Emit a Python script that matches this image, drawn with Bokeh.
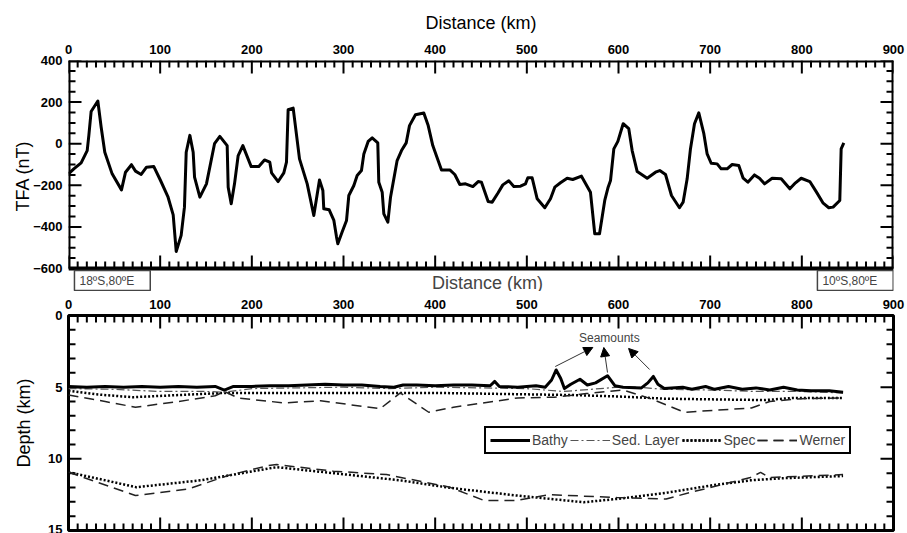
from bokeh.plotting import figure
from bokeh.models import (LinearAxis, SingleIntervalTicker, Range1d, Label, Arrow,
                          NormalHead, Legend, LegendItem, ColumnDataSource)
from bokeh.layouts import column
from bokeh.embed import file_html
from bokeh.resources import INLINE

FONT = "Liberation Sans"

# ---------------- data ----------------
tfa_km = [0, 5.8, 13.8, 20.4, 22.2, 24.7, 32, 35.6, 39.6, 47.6,
          57.8, 62.2, 68.7, 73.1, 79.3, 85.1, 93.1, 100.4, 108.4, 114.2,
          117.5, 122.9, 126.5, 128.4, 132.4, 136, 137.5, 143.3, 150.5, 159.3,
          165.1, 173.1, 174.2, 177.5, 181.1, 185.1, 190.2, 199.3, 207.6, 213.8,
          219.6, 221.5, 228.7, 234.9, 237.8, 239.6, 245.1, 252, 260.4, 267.6,
          273.8, 277.5, 278.5, 284.4, 289.5, 292.4, 293.8, 298.5, 303.3, 305.8,
          311.3, 314.9, 319.6, 322.2, 326.9, 331.3, 337.4, 338.5, 342.2, 344,
          348.4, 351.3, 358.5, 363.3, 368.4, 372, 378.5, 387.6, 392.4, 397.4,
          406.9, 416, 421.4, 426.9, 433.1, 441.1, 446.9, 450.5, 457.8, 462.2,
          468.7, 473.8, 480.3, 485.8, 493.1, 498.5, 501.1, 505.8, 511.3, 519.6,
          525.8, 530.5, 536.7, 544, 550.1, 559.6, 569.4, 574.1, 579.3, 585,
          588.7, 591.3, 594.9, 599.3, 605.1, 611.2, 614.9, 620.4, 631.3, 640.4,
          645, 651.3, 657.8, 666.5, 670.5, 674.9, 678.5, 682.9, 687.6, 693.1,
          696.7, 701.1, 707.6, 712, 718.5, 724, 731.2, 736, 741.1, 748.3,
          753.8, 759.3, 767.6, 777.5, 786.9, 793.1, 799.3, 808.7, 816, 823.3,
          829.4, 834.1, 841.4, 842.9, 845.8]
tfa_nT = [-145, -121, -92, -33, 40, 155, 205, 80, -41, -145,
          -222, -137, -101, -132, -148, -113, -110, -177, -254, -342,
          -518, -441, -305, -41, 40, -41, -161, -257, -193, 0,
          35, -9, -209, -289, -193, -57, -9, -110, -110, -78,
          -89, -140, -182, -140, -89, 163, 171, -73, -193, -345,
          -174, -225, -313, -318, -369, -449, -481, -425, -369, -249,
          -201, -153, -129, -49, 11, 28, 4, -185, -233, -337,
          -377, -257, -81, -33, 4, 87, 139, 148, 87, -9,
          -126, -126, -148, -196, -193, -206, -182, -185, -278, -281,
          -236, -198, -178, -206, -204, -193, -164, -164, -265, -308,
          -265, -209, -188, -166, -172, -156, -233, -433, -433, -273,
          -209, -177, -25, 11, 96, 72, -33, -134, -166, -137,
          -129, -148, -249, -308, -281, -169, -25, 96, 148, 48,
          -49, -94, -97, -121, -121, -100, -105, -166, -185, -150,
          -166, -193, -166, -169, -217, -188, -166, -182, -233, -286,
          -308, -305, -273, -25, 4]

bathy_km = [0, 20, 40, 60, 80, 100, 120, 140, 160, 170, 180, 200, 220, 240, 260, 280,
            300, 320, 340, 355, 365, 380, 400, 420, 440, 460, 465, 470, 490, 510, 520,
            527, 532, 537, 541, 548, 558, 566, 575, 588, 596, 605, 625, 632, 638, 643,
            650, 670, 680, 695, 705, 720, 735, 750, 765, 780, 795, 810, 830, 845]
bathy_d = [4.95, 5.0, 4.95, 5.0, 4.95, 5.0, 4.95, 5.0, 4.95, 5.2, 4.95, 4.95, 4.9, 4.9, 4.85, 4.8,
           4.85, 4.85, 4.95, 5.0, 4.85, 4.85, 4.9, 4.85, 4.85, 4.9, 4.6, 4.95, 5.0, 4.9, 5.0,
           4.5, 3.8, 4.4, 5.1, 4.8, 4.45, 4.85, 4.7, 4.2, 4.9, 5.0, 5.05, 4.7, 4.25, 4.8,
           5.1, 5.0, 5.15, 4.95, 5.15, 4.95, 5.15, 5.05, 5.2, 5.0, 5.2, 5.25, 5.25, 5.35]

sed_km = [0, 50, 100, 150, 170, 200, 250, 300, 350, 400, 450, 500, 540, 580, 600, 620,
          650, 700, 750, 800, 845]
sed_d = [5.1, 5.15, 5.3, 5.3, 5.35, 5.1, 5.05, 5.0, 5.1, 5.0, 5.05, 5.1, 5.3, 5.1, 5.0, 5.0,
         5.15, 5.2, 5.3, 5.3, 5.4]

spec_up_km = [0, 30, 70, 120, 170, 220, 300, 400, 450, 500, 550, 600, 650, 700, 760, 790, 845]
spec_up_d = [5.25, 5.5, 5.7, 5.55, 5.4, 5.4, 5.4, 5.4, 5.45, 5.5, 5.55, 5.65, 5.8, 5.85, 5.9, 5.75, 5.75]

werner_up_km = [0, 40, 73, 120, 160, 170, 185, 235, 275, 340, 362, 393, 420, 490, 530, 565,
                605, 635, 672, 745, 765, 800, 845]
werner_up_d = [5.55, 6.0, 6.4, 6.0, 5.6, 5.3, 5.75, 6.1, 5.95, 6.5, 5.4, 6.75, 6.4, 5.75, 5.7, 5.45,
               5.2, 5.8, 6.75, 6.45, 6.0, 5.8, 5.75]

spec_lo_km = [0, 74, 144, 227, 289, 362, 417, 489, 562, 598, 652, 707, 744, 780, 845]
spec_lo_d = [10.93, 11.98, 11.5, 10.58, 11.0, 11.5, 12.03, 12.56, 13.03, 12.8, 12.37, 11.8, 11.5, 11.35, 11.2]

werner_lo_km = [0, 73, 131, 174, 218, 227, 289, 347, 416, 453, 489, 525, 598, 652, 678, 744,
                755, 765, 845]
werner_lo_d = [10.93, 12.56, 12.1, 11.16, 10.47, 10.4, 10.86, 11.1, 11.98, 12.9, 12.9, 12.5, 12.7,
               12.8, 12.35, 11.3, 10.95, 11.3, 11.1]

X_MAX = 900
TFA_MIN, TFA_MAX = -600, 400
DEPTH_MAX = 15

# ---------------- geometry (pixels) ----------------
W = 907
LEFT, RIGHT = 68, 14
FRAME_W = W - LEFT - RIGHT
P1_TOP, P1_FRAME_H, P1_BAND = 60, 208, 23     # band under the top panel holds the location boxes
P2_TOP, P2_FRAME_H, P2_BOT = 24, 215, 3
MAJOR_PX, MINOR_PX = 13, 7

kx = X_MAX / FRAME_W                       # km per pixel
ky1 = (TFA_MAX - TFA_MIN) / P1_FRAME_H     # nT per pixel
ky2 = DEPTH_MAX / P2_FRAME_H               # km depth per pixel


def label_axis(ax, overrides=None):
    ax.major_tick_in = 0
    ax.major_tick_out = 0
    ax.minor_tick_in = 0
    ax.minor_tick_out = 0
    ax.axis_line_color = None
    ax.major_label_text_font = FONT
    ax.major_label_text_font_size = "13px"
    ax.major_label_text_font_style = "bold"
    ax.major_label_text_color = "black"
    ax.major_label_standoff = 7
    ax.axis_label_text_font = FONT
    ax.axis_label_text_font_size = "18px"
    ax.axis_label_text_font_style = "normal"
    ax.axis_label_text_color = "black"
    if overrides:
        ax.major_label_overrides = overrides


def inward_ticks(p, xt, yt, y_top, y_bot, ky):
    """Tick marks drawn as short segments inside the frame, on all four edges."""
    s = 1.0 if y_bot > y_top else -1.0
    x0s, y0s, x1s, y1s = [], [], [], []
    for ticks, ln in xt:
        for t in ticks:
            x0s += [float(t), float(t)]
            x1s += [float(t), float(t)]
            y0s += [float(y_top), float(y_bot)]
            y1s += [y_top + s * ln * ky, y_bot - s * ln * ky]
    for ticks, ln in yt:
        for t in ticks:
            x0s += [0.0, float(X_MAX)]
            x1s += [ln * kx, X_MAX - ln * kx]
            y0s += [float(t), float(t)]
            y1s += [float(t), float(t)]
    src = ColumnDataSource(dict(x0=x0s, y0=y0s, x1=x1s, y1=y1s))
    p.segment(x0="x0", y0="y0", x1="x1", y1="y1", source=src,
              line_color="black", line_width=2)


x_major = list(range(0, X_MAX + 1, 100))
x_minor = [v for v in range(0, X_MAX + 1, 10) if v % 100]

# ---------------- top panel ----------------
tfa_bottom = TFA_MIN - P1_BAND * ky1
p1 = figure(width=W, height=P1_TOP + P1_FRAME_H + P1_BAND,
            x_range=Range1d(0, X_MAX), y_range=Range1d(tfa_bottom, TFA_MAX),
            output_backend="svg", toolbar_location=None,
            x_axis_location=None, y_axis_location=None,
            min_border_left=LEFT, min_border_right=RIGHT, min_border_top=P1_TOP, min_border_bottom=0)
p1.grid.visible = False
p1.outline_line_color = None

ax = LinearAxis(axis_label="Distance (km)", ticker=SingleIntervalTicker(interval=100, num_minor_ticks=10))
label_axis(ax)
ax.axis_label_standoff = 9
p1.add_layout(ax, "above")

tfa_major = list(range(TFA_MIN, TFA_MAX + 1, 200))
tfa_minor = [v for v in range(TFA_MIN, TFA_MAX + 1, 50) if v % 200]
ax = LinearAxis(axis_label="TFA (nT)", ticker=SingleIntervalTicker(interval=200, num_minor_ticks=4))
label_axis(ax, {v: str(v).replace("-", "\u2212") for v in tfa_major if v < 0})
ax.major_label_standoff = 6
ax.axis_label_standoff = -3
p1.add_layout(ax, "left")

# frame of the top panel (stops at TFA_MIN, above the band with the location boxes)
p1.segment(x0=[0, 0, 0, X_MAX], y0=[TFA_MAX, TFA_MIN, TFA_MIN, TFA_MIN],
           x1=[X_MAX, X_MAX, 0, X_MAX], y1=[TFA_MAX, TFA_MIN, TFA_MAX, TFA_MAX],
           line_color="black", line_width=4)
inward_ticks(p1, [(x_major, MAJOR_PX), (x_minor, MINOR_PX)],
             [(tfa_major, MAJOR_PX), (tfa_minor, MINOR_PX)], TFA_MAX, TFA_MIN, ky1)
p1.line(tfa_km, tfa_nT, line_color="black", line_width=3, line_join="round")

box_y = TFA_MIN - 12 * ky1
for xx, txt in [(6.5, "18ºS,80ºE"), (817, "10ºS,80ºE")]:
    p1.add_layout(Label(x=xx, y=box_y, text=txt, text_font=FONT, text_font_size="12px",
                        text_baseline="middle", text_align="left",
                        border_line_color="#444444", border_line_width=1.5,
                        background_fill_color="white",
                        padding=dict(left=5, right=16, top=3, bottom=3)))
p1.add_layout(Label(x=457, y=TFA_MIN - 14 * ky1, text="Distance (km)", text_font=FONT,
                    text_font_size="18px", text_baseline="middle", text_align="center"))

# ---------------- bottom panel ----------------
p2 = figure(width=W, height=P2_TOP + P2_FRAME_H + P2_BOT,
            x_range=Range1d(0, X_MAX), y_range=Range1d(DEPTH_MAX, 0),
            output_backend="svg", toolbar_location=None,
            x_axis_location=None, y_axis_location=None,
            min_border_left=LEFT, min_border_right=RIGHT, min_border_top=P2_TOP, min_border_bottom=P2_BOT)
p2.grid.visible = False
p2.outline_line_color = "black"
p2.outline_line_width = 3

ax = LinearAxis(ticker=SingleIntervalTicker(interval=100, num_minor_ticks=10))
label_axis(ax)
p2.add_layout(ax, "above")

d_major = list(range(0, DEPTH_MAX + 1, 5))
d_minor = [v for v in range(0, DEPTH_MAX + 1) if v % 5]
ax = LinearAxis(axis_label="Depth (km)", ticker=SingleIntervalTicker(interval=5, num_minor_ticks=5))
label_axis(ax)
ax.major_label_standoff = 6
ax.axis_label_standoff = 11
p2.add_layout(ax, "left")

inward_ticks(p2, [(x_major, MAJOR_PX), (x_minor, MINOR_PX)],
             [(d_major, MAJOR_PX), (d_minor, MINOR_PX)], 0, DEPTH_MAX, ky2)

r_spec1 = p2.line(spec_up_km, spec_up_d, line_color="black", line_width=2.5, line_dash="2 2")
r_spec2 = p2.line(spec_lo_km, spec_lo_d, line_color="black", line_width=2.5, line_dash="2 2")
r_wer1 = p2.line(werner_up_km, werner_up_d, line_color="#222222", line_width=1.5, line_dash="10 6")
r_wer2 = p2.line(werner_lo_km, werner_lo_d, line_color="#222222", line_width=1.5, line_dash="10 6")
r_sed = p2.line(sed_km, sed_d, line_color="#555555", line_width=1.2, line_dash="8 3 2 3")
r_bathy = p2.line(bathy_km, bathy_d, line_color="black", line_width=3, line_join="round")

legend = Legend(items=[LegendItem(label="Bathy", renderers=[r_bathy]),
                       LegendItem(label="Sed. Layer", renderers=[r_sed]),
                       LegendItem(label="Spec", renderers=[r_spec1, r_spec2]),
                       LegendItem(label="Werner", renderers=[r_wer1, r_wer2])],
                location=(416, 76), orientation="horizontal",
                border_line_color="black", border_line_width=2.5, border_line_alpha=1,
                label_text_font=FONT, label_text_font_size="14px",
                glyph_width=40, glyph_height=12, label_standoff=2, spacing=2,
                padding=4, margin=0, background_fill_alpha=1)
p2.add_layout(legend)

p2.add_layout(Label(x=590, y=1.6, text="Seamounts", text_font=FONT, text_font_size="12px",
                    text_align="center", text_baseline="middle"))
for xs, ys, xe, ye in [(531, 3.56, 572, 2.23), (588, 3.98, 584, 2.23), (634, 3.77, 611, 2.3)]:
    p2.add_layout(Arrow(end=NormalHead(size=9, fill_color="black", line_color="black"),
                        x_start=xs, y_start=ys, x_end=xe, y_end=ye,
                        line_color="#333333", line_width=1))

layout = column(p1, p2, spacing=0)
open("out.html", "w").write(file_html(layout, INLINE))
